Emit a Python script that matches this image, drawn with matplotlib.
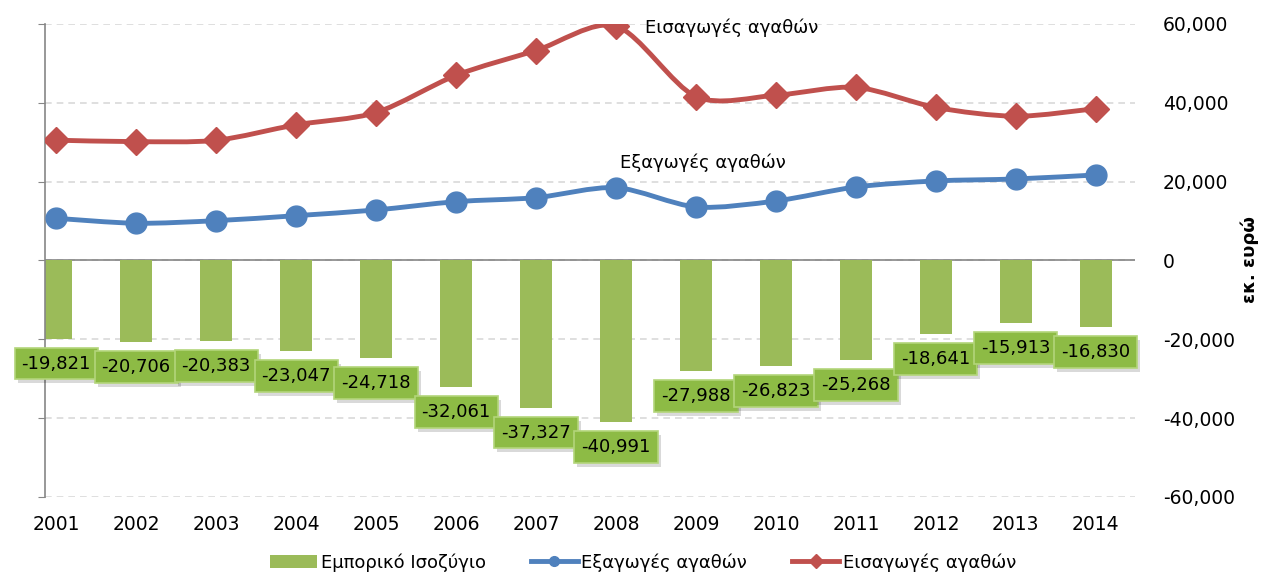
import matplotlib
matplotlib.use("Agg")
import matplotlib.pyplot as plt
import numpy as np
from matplotlib.path import Path
from matplotlib.patches import PathPatch
from matplotlib.ticker import FuncFormatter

# ---------------------
# Data (εκ. ευρώ)
# ---------------------
years = ["2001", "2002", "2003", "2004", "2005", "2006", "2007",
         "2008", "2009", "2010", "2011", "2012", "2013", "2014"]
balance = [-19821, -20706, -20383, -23047, -24718, -32061, -37327,
           -40991, -27988, -26823, -25268, -18641, -15913, -16830]
exports = [10700, 9440, 10100, 11370, 12820, 14920, 15940,
           18480, 13580, 15100, 18650, 20180, 20680, 21700]
imports = [30520, 30150, 30480, 34420, 37540, 46980, 53270,
           59470, 41570, 41920, 43920, 38820, 36590, 38530]

lbl_bal = "Εμπορικό Ισοζύγιο"
lbl_exp = "Εξαγωγές αγαθών"
lbl_imp = "Εισαγωγές αγαθών"

green = "#9BBB59"
blue = "#4F81BD"
red = "#C0504D"
axis_grey = "#868686"

plt.rcParams["font.family"] = ["DejaVu Sans"]
plt.rcParams["font.size"] = 13


def smooth_path(xs, ys):
    # Catmull-Rom -> cubic bezier (Excel-like smoothed line)
    pts = np.column_stack([xs, ys]).astype(float)
    n = len(pts)
    verts = [pts[0]]
    codes = [Path.MOVETO]
    for i in range(n - 1):
        p0 = pts[i - 1] if i > 0 else pts[i]
        p1 = pts[i]
        p2 = pts[i + 1]
        p3 = pts[i + 2] if i + 2 < n else pts[i + 1]
        c1 = p1 + (p2 - p0) / 7.0
        c2 = p2 - (p3 - p1) / 7.0
        verts += [c1, c2, p2]
        codes += [Path.CURVE4] * 3
    return Path(verts, codes)


fig = plt.figure(figsize=(12.61, 5.75), dpi=100)
ax = fig.add_axes([0.0357, 0.1357, 0.8644, 0.8226])

x = np.arange(len(years))

# ---------------------
# Bars
# ---------------------
bars = ax.bar(x, balance, width=0.4, color=green, zorder=2, label=lbl_bal)

# ---------------------
# Smoothed lines + markers
# ---------------------
handles = [bars]
for vals, col, mk, ms, lab in [(exports, blue, "o", 15, lbl_exp),
                               (imports, red, "D", 13, lbl_imp)]:
    ax.add_patch(PathPatch(smooth_path(x, vals), facecolor="none",
                           edgecolor=col, lw=3.5, zorder=3,
                           capstyle="round", joinstyle="round"))
    ax.plot(x, vals, linestyle="none", marker=mk, ms=ms, color=col, zorder=4)
    # legend proxy
    h, = ax.plot([], [], color=col, lw=3.5, marker=mk, ms=7, label=lab)
    handles.append(h)

# ---------------------
# Data labels for balance
# ---------------------
for i, v in enumerate(balance):
    txt = f"{v:,}"
    ax.annotate(txt, (x[i], v), xytext=(3, -29), textcoords="offset pixels",
                ha="center", va="center", fontsize=13, color=(0, 0, 0, 0),
                bbox=dict(boxstyle="square,pad=0.38", fc="#000000",
                          ec="none", alpha=0.15),
                zorder=10 + 2 * i, annotation_clip=False)
    ax.annotate(txt, (x[i], v), xytext=(0, -25), textcoords="offset pixels",
                ha="center", va="center", fontsize=13, color="black",
                bbox=dict(boxstyle="square,pad=0.38", fc="#8DBB45",
                          ec="#B3D57A", lw=1.2),
                zorder=11 + 2 * i, annotation_clip=False)

# series name labels near 2008
i_peak = years.index("2008")
ax.annotate(lbl_imp, (x[i_peak], imports[i_peak]), xytext=(29, -2),
            textcoords="offset pixels", ha="left", va="center", fontsize=13)
ax.annotate(lbl_exp, (x[i_peak], exports[i_peak]), xytext=(4, 25),
            textcoords="offset pixels", ha="left", va="center", fontsize=13)

# ---------------------
# Axes styling
# ---------------------
ax.set_xlim(-0.14, 13.49)
ax.set_ylim(-60000, 60000)
ax.set_yticks(np.arange(-60000, 60001, 20000))
ax.yaxis.set_major_formatter(FuncFormatter(lambda v, p: f"{int(v):,}"))
ax.tick_params(axis="y", left=True, right=False, labelleft=False,
               labelright=True, length=5, color=axis_grey, pad=15,
               labelsize=13.5)
ax.set_xticks(x)
ax.set_xticklabels(years)
ax.tick_params(axis="x", length=0, pad=13, labelsize=13.5)

for s in ["top", "right", "bottom"]:
    ax.spines[s].set_visible(False)
ax.spines["left"].set_color(axis_grey)
ax.spines["left"].set_linewidth(1.2)

ax.grid(axis="y", color="#D9D9D9", linestyle=(0, (4, 3)), lw=1.2, zorder=0)
ax.set_axisbelow(True)
ax.axhline(0, color=axis_grey, lw=1.2, zorder=1)

fig.text(1250 / 1261, 0.548, "εκ. ευρώ", rotation=90, ha="center",
         va="center", fontsize=13, fontweight="bold")

ax.legend(handles=handles, labels=[lbl_bal, lbl_exp, lbl_imp],
          loc="center", bbox_to_anchor=(0.51, 0.022),
          bbox_transform=fig.transFigure, ncol=3, frameon=False,
          fontsize=13, handlelength=2.6, handletextpad=0.2,
          columnspacing=2.5)

plt.savefig("out.png", dpi=100)
